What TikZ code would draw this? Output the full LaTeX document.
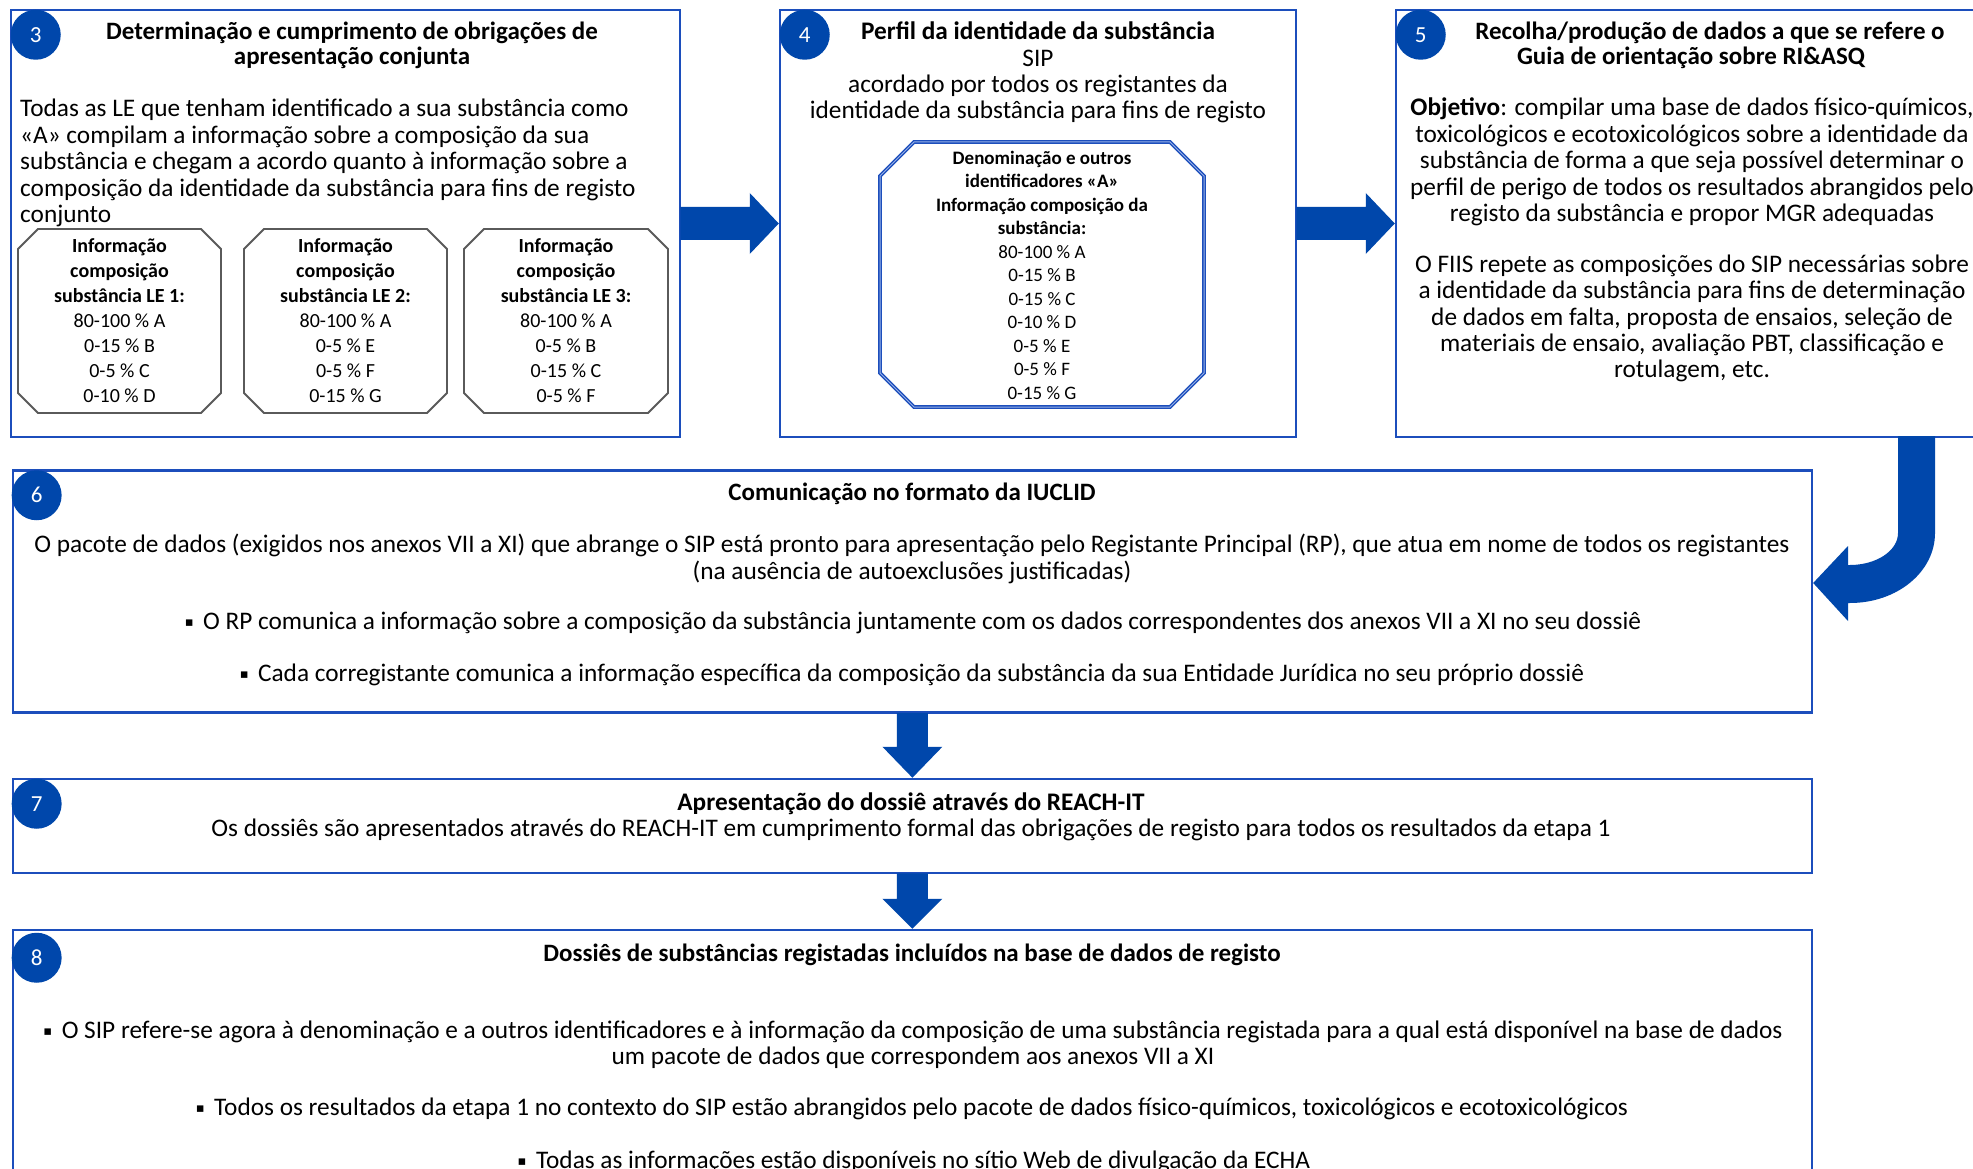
\documentclass[tikz,border=0pt]{standalone}
\usepackage{fontspec}
\setmainfont{Carlito}
\newfontfamily\djv{DejaVu Sans}
\usetikzlibrary{calc}
\definecolor{arrblue}{RGB}{0,71,171}
\definecolor{boxblue}{RGB}{28,78,188}
\definecolor{octgray}{RGB}{90,90,90}
\definecolor{lightb}{RGB}{150,175,230}
\newcommand\bul{\raisebox{0.12em}{\djv\fontsize{13}{13}\selectfont ▪}\hspace{0.15em}}
\newcommand\octpath[5]{({#1+#5},#2) -- ({#3-#5},#2) -- (#3,{#2+#5}) -- (#3,{#4-#5}) -- ({#3-#5},#4) -- ({#1+#5},#4) -- (#1,{#4-#5}) -- (#1,{#2+#5}) -- cycle}
\begin{document}
\begin{tikzpicture}[x=1pt,y=-1pt,
  box/.style={draw=boxblue,line width=2.5pt,inner sep=0pt,rectangle},
  badge/.style={circle,fill=arrblue,minimum size=50pt,inner sep=0pt,text=white,font=\fontsize{23}{26}\selectfont},
  txt/.style={inner sep=0pt,align=center,font=\fontsize{25.3}{26.4}\selectfont},
  ttl/.style={inner sep=0pt,align=center,font=\bfseries\fontsize{25}{25.2}\selectfont},
  octt/.style={inner sep=0pt,align=center,font=\fontsize{20}{25}\selectfont},
  innt/.style={inner sep=0pt,align=center,font=\fontsize{19}{23.5}\selectfont},
  arr/.style={fill=arrblue}]
\path[use as bounding box,clip] (0,0) rectangle (1973,1169);
\fill[white] (0,0) rectangle (1973,1169);

% boxes
\node[box,minimum width=669pt,minimum height=427pt] (b3) at (345.5,223.5) {};
\node[box,minimum width=516pt,minimum height=427pt] (b4) at (1038,223.5) {};
\node[box,minimum width=594pt,minimum height=427pt] (b5) at (1693,223.5) {};
\node[box,minimum width=1799pt,minimum height=242pt] (b6) at (912.4,591.5) {};
\node[box,minimum width=1799pt,minimum height=94pt] (b7) at (912.4,826) {};
\node[box,minimum width=1799pt,minimum height=270pt] (b8) at (912.4,1065) {};

% badges
\node[badge] (n3) at ($(b3.north west)+(26,26)$) {3};
\node[badge] (n4) at ($(b4.north west)+(26,26)$) {4};
\node[badge] (n5) at ($(b5.north west)+(26,26)$) {5};
\node[badge] (n6) at ($(b6.north west)+(25,26)$) {6};
\node[badge] (n7) at ($(b7.north west)+(25,26)$) {7};
\node[badge] (n8) at ($(b8.north west)+(25,29)$) {8};

% box 3
\node[ttl] (t3) at (352,45.5) {Determinação e cumprimento de obrigações de\\apresentação conjunta};
\node[txt,align=left,anchor=west] (p3) at (20,163) {Todas as LE que tenham identificado a sua substância como\\«A» compilam a informação sobre a composição da sua\\substância e chegam a acordo quanto à informação sobre a\\composição da identidade da substância para fins de registo\\conjunto};
\draw[octgray,line width=1.8pt] \octpath{18}{229}{221}{413}{20};
\draw[octgray,line width=1.8pt] \octpath{244}{229}{447}{413}{20};
\draw[octgray,line width=1.8pt] \octpath{464}{229}{668}{413}{20};
\node[octt] (o1) at (119.5,321) {\textbf{Informação}\\\textbf{composição}\\\textbf{substância LE 1:}\\80-100 \% A\\0-15 \% B\\0-5 \% C\\0-10 \% D};
\node[octt] (o2) at (345.5,321) {\textbf{Informação}\\\textbf{composição}\\\textbf{substância LE 2:}\\80-100 \% A\\0-5 \% E\\0-5 \% F\\0-15 \% G};
\node[octt] (o3) at (566,321) {\textbf{Informação}\\\textbf{composição}\\\textbf{substância LE 3:}\\80-100 \% A\\0-5 \% B\\0-15 \% C\\0-5 \% F};

% box 4
\node[txt] (t4) at (1038,72.5) {\textbf{Perfil da identidade da substância}\\SIP\\acordado por todos os registantes da\\identidade da substância para fins de registo};
\draw[boxblue,line width=1.3pt,double=lightb,double distance=1pt] \octpath{880}{142}{1204}{407}{34};
\node[innt] (i4) at (1042,275) {\textbf{Denominação e outros}\\\textbf{identificadores «A»}\\\textbf{Informação composição da}\\\textbf{substância:}\\80-100 \% A\\0-15 \% B\\0-15 \% C\\0-10 \% D\\0-5 \% E\\0-5 \% F\\0-15 \% G};

% box 5
\node[ttl] (t5a) at (1710,33) {Recolha/produção de dados a que se refere o};
\node[ttl] (t5b) at (1691,58) {Guia de orientação sobre RI\&ASQ};
\node[txt] (p5a) at (1692,162) {\textbf{Objetivo}: compilar uma base de dados físico-químicos,\\toxicológicos e ecotoxicológicos sobre a identidade da\\substância de forma a que seja possível determinar o\\perfil de perigo de todos os resultados abrangidos pelo\\registo da substância e propor MGR adequadas};
\node[txt] (p5b) at (1692,318.5) {O FIIS repete as composições do SIP necessárias sobre\\a identidade da substância para fins de determinação\\de dados em falta, proposta de ensaios, seleção de\\materiais de ensaio, avaliação PBT, classificação e\\rotulagem, etc.};

% box 6
\node[ttl] (t6) at (912,494) {Comunicação no formato da IUCLID};
\node[txt] (p6a) at (912,559) {O pacote de dados (exigidos nos anexos VII a XI) que abrange o SIP está pronto para apresentação pelo Registante Principal (RP), que atua em nome de todos os registantes\\(na ausência de autoexclusões justificadas)};
\node[txt] (p6b) at (913,623) {\bul\ O RP comunica a informação sobre a composição da substância juntamente com os dados correspondentes dos anexos VII a XI no seu dossiê};
\node[txt] (p6c) at (912,675) {\bul\ Cada corregistante comunica a informação específica da composição da substância da sua Entidade Jurídica no seu próprio dossiê};

% box 7
\node[txt] (t7) at (911,816.5) {\textbf{Apresentação do dossiê através do REACH-IT}\\Os dossiês são apresentados através do REACH-IT em cumprimento formal das obrigações de registo para todos os resultados da etapa 1};

% box 8
\node[ttl] (t8) at (912,954.5) {Dossiês de substâncias registadas incluídos na base de dados de registo};
\node[txt] (p8a) at (913,1045) {\bul\ O SIP refere-se agora à denominação e a outros identificadores e à informação da composição de uma substância registada para a qual está disponível na base de dados\\um pacote de dados que correspondem aos anexos VII a XI};
\node[txt] (p8b) at (912,1109) {\bul\ Todos os resultados da etapa 1 no contexto do SIP estão abrangidos pelo pacote de dados físico-químicos, toxicológicos e ecotoxicológicos};
\node[txt] (p8c) at (914,1162) {\bul\ Todas as informações estão disponíveis no sítio Web de divulgação da ECHA};

% arrows
\fill[arr] ($(b3.east)+(-1,-16.5)$) -- ($(b4.west)+(-29,-16.5)$) -- ($(b4.west)+(-29,-30.5)$) -- (b4.west) -- ($(b4.west)+(-29,30.5)$) -- ($(b4.west)+(-29,16.5)$) -- ($(b3.east)+(-1,16.5)$) -- cycle;
\fill[arr] ($(b4.east)+(-1,-16.5)$) -- ($(b5.west)+(-29,-16.5)$) -- ($(b5.west)+(-29,-30.5)$) -- (b5.west) -- ($(b5.west)+(-29,30.5)$) -- ($(b5.west)+(-29,16.5)$) -- ($(b4.east)+(-1,16.5)$) -- cycle;
\fill[arr] ($(b6.south)+(-15.5,-1)$) -- ($(b7.north)+(-15.5,-31)$) -- ($(b7.north)+(-30,-31)$) -- (b7.north) -- ($(b7.north)+(30,-31)$) -- ($(b7.north)+(15.5,-31)$) -- ($(b6.south)+(15.5,-1)$) -- cycle;
\fill[arr] ($(b7.south)+(-15.5,-1)$) -- ($(b8.north)+(-15.5,-30)$) -- ($(b8.north)+(-30,-30)$) -- (b8.north) -- ($(b8.north)+(30,-30)$) -- ($(b8.north)+(15.5,-30)$) -- ($(b7.south)+(15.5,-1)$) -- cycle;
\coordinate (ctip) at (b6.east |- 0,583);
\coordinate (cstart) at (1916.5,436);
\fill[arr] ($(cstart)+(-18.5,0)$) -- (1898,533) .. controls (1898,551) and (1876,565) .. (1850,565) -- (1848,565) -- (1848,546) -- (ctip) -- (1848,621) -- (1848,603) -- (1850,603) .. controls (1897,603) and (1935,572) .. (1935,533) -- ($(cstart)+(18.5,0)$) -- cycle;
\end{tikzpicture}
\end{document}
